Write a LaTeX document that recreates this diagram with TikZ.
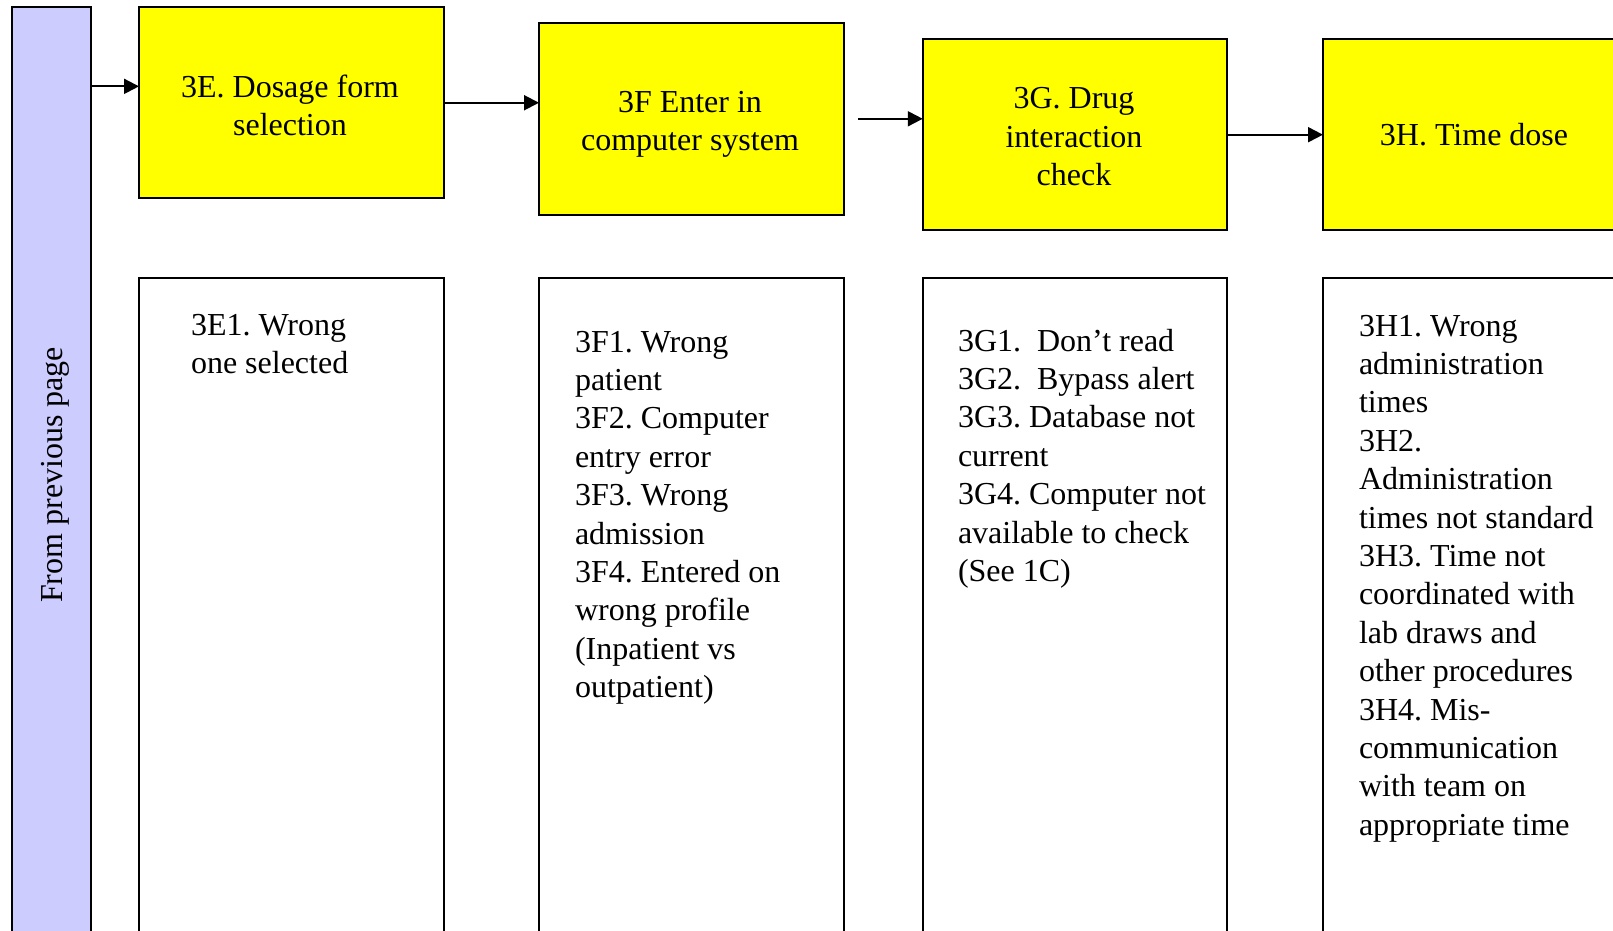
\documentclass[tikz,border=0pt]{standalone}
\usepackage{fontspec}
\setmainfont{Liberation Serif}
\usetikzlibrary{arrows.meta}
\definecolor{boxyellow}{RGB}{255,255,0}
\definecolor{barlav}{RGB}{204,204,255}
\newcommand{\fl}{\rule{0pt}{12pt}}
\frenchspacing
\begin{document}
\begin{tikzpicture}[x=0.5pt,y=-0.5pt,
  box/.style={draw=black,line width=1pt,inner sep=0pt,outer sep=0pt,minimum width=152.25pt},
  topbox/.style={box,fill=boxyellow,minimum height=95.75pt},
  lowbox/.style={box,fill=white,minimum height=336pt},
  txt/.style={inner sep=0pt,outer sep=0pt,font=\fontsize{16}{19.2}\selectfont\frenchspacing},
  arr/.style={line width=1pt,-{Triangle[length=7.5pt,width=7.5pt]}}]
\useasboundingbox (0,0) rectangle (1613,931);
\clip (0,0) rectangle (1613,931);
\fill[white] (0,0) rectangle (1613,931);
% left bar
\node[draw=black,line width=1pt,fill=barlav,inner sep=0pt,outer sep=0pt,minimum width=39.75pt,minimum height=470pt] (bar) at (51.25,477) {};
\node[txt,rotate=90,anchor=base] (from) at (62,475) {From previous page};
% top boxes
\node[topbox] (e) at (291.25,102.75) {};
\node[topbox] (f) at (691.25,118.8) {};
\node[topbox] (g) at (1075,134.7) {};
\node[topbox] (h) at (1475.25,134.7) {};
% lower boxes
\node[lowbox] (e1) at (291.25,613.9) {};
\node[lowbox] (f1) at (691.25,613.9) {};
\node[lowbox] (g1) at (1075,613.9) {};
\node[lowbox] (h1) at (1475.25,613.9) {};
% top texts
\node[txt,align=center,anchor=north] (te) at (290,73.5) {\fl 3E. Dosage form\\selection};
\node[txt,align=center,anchor=north] (tf) at (690,88) {\fl 3F Enter in\\computer system};
\node[txt,align=center,anchor=north] (tg) at (1074,85) {\fl 3G. Drug\\interaction\\check};
\node[txt,align=center,anchor=north] (th) at (1474,122) {\fl 3H. Time dose};
% lower texts
\node[txt,align=left,anchor=north west] (te1) at (191,311) {\fl 3E1. Wrong\\one selected};
\node[txt,align=left,anchor=north west] (tf1) at (575,328) {\fl 3F1. Wrong\\patient\\3F2. Computer\\entry error\\3F3. Wrong\\admission\\3F4. Entered on\\wrong profile\\(Inpatient vs\\outpatient)};
\node[txt,align=left,anchor=north west] (tg1) at (958,327) {\fl 3G1.~~Don’t read\\3G2.~~Bypass alert\\3G3. Database not\\current\\3G4. Computer not\\available to check\\(See 1C)};
\node[txt,align=left,anchor=north west] (th1) at (1359,312) {\fl 3H1. Wrong\\administration\\times\\3H2.\\Administration\\times not standard\\3H3. Time not\\coordinated with\\lab draws and\\other procedures\\3H4. Mis-\\communication\\with team on\\appropriate time};
% connectors
\coordinate (ein) at ([yshift=8.2pt]e.west);
\coordinate (fstart) at ([xshift=7.25pt]f.east);
\draw[arr] (bar.east |- ein) -- (ein);
\draw[arr] (e.east) -- (e.east -| f.west);
\draw[arr] (fstart) -- (fstart -| g.west);
\draw[arr] (g.east) -- (g.east -| h.west);
\end{tikzpicture}
\end{document}
